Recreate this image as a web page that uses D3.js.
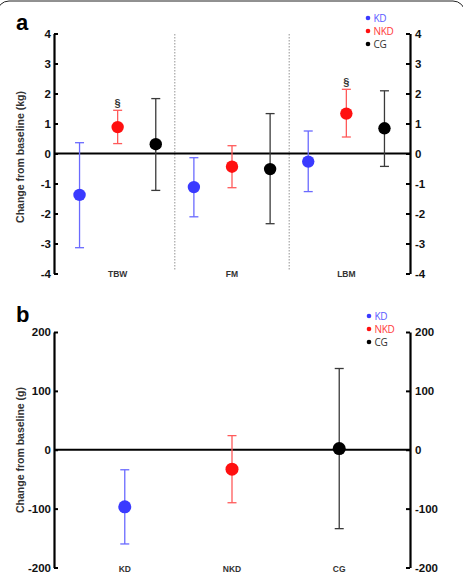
<!DOCTYPE html>
<html>
<head>
<meta charset="utf-8">
<script src="https://cdn.jsdelivr.net/npm/d3@7"></script>
<style>
  body { margin: 0; background: #fff; }
  svg { display: block; font-family: "Liberation Sans", Arial, sans-serif; }
</style>
</head>
<body>
<script>
    var w = 463;
    var h = 581;

    // panel a data (kg)
    var compartments = ["TBW", "FM", "LBM"];
    var groups = ["KD", "NKD", "CG"];
    var meanA = [[-1.38, 0.88, 0.31], [-1.12, -0.44, -0.52], [-0.27, 1.33, 0.84]];
    var lowA  = [[-3.14, 0.33, -1.23], [-2.11, -1.14, -2.34], [-1.27, 0.55, -0.43]];
    var highA = [[0.36, 1.44, 1.83], [-0.14, 0.26, 1.33], [0.75, 2.14, 2.09]];
    var sigA  = [["", "§", ""], ["", "", ""], ["", "§", ""]];
    var ticksA = [-4, -3, -2, -1, 0, 1, 2, 3, 4];

    // panel b data (g)
    var meanB = [-97, -33, 2];
    var lowB  = [-160, -90, -134];
    var highB = [-34, 24, 138];
    var ticksB = [-200, -100, 0, 100, 200];

    var dotColor = { KD: "#3a3aff", NKD: "#ff1010", CG: "#000" };
    var barColor = { KD: "#6a6aff", NKD: "#ff5a5a", CG: "#3a3a3a" };
    var legColor = { KD: "#5a5aff", NKD: "#ff3a3a", CG: "#333" };

    var svg = d3.select("body")
                .append("svg")
                .attr("width", w)
                .attr("height", h);

    // rounded frame, only the top shows
    svg.append("rect")
       .attr("x", -3).attr("y", 1)
       .attr("width", w + 5).attr("height", 700)
       .attr("rx", 12)
       .attr("fill", "none")
       .attr("stroke", "#222")
       .attr("stroke-width", 1);

    var xL = 54, xR = 410;

    function drawAxes(g, y, ticks, ylabel, yMid) {
        g.append("g")
         .attr("transform", "translate(" + xL + ",0)")
         .call(d3.axisLeft(y).tickValues(ticks).tickFormat(d => String(d))
                 .tickSizeInner(-4).tickSizeOuter(0).tickPadding(3))
         .call(styleAxis);
        g.append("g")
         .attr("transform", "translate(" + xR + ",0)")
         .call(d3.axisRight(y).tickValues(ticks).tickFormat(d => String(d))
                 .tickSizeInner(-4).tickSizeOuter(0).tickPadding(5))
         .call(styleAxis);
        // zero line
        g.append("line")
         .attr("x1", xL).attr("x2", xR)
         .attr("y1", y(0)).attr("y2", y(0))
         .attr("stroke", "#000").attr("stroke-width", 2.2);
        g.append("text")
         .attr("transform", "translate(24," + yMid + ") rotate(-90)")
         .attr("text-anchor", "middle")
         .attr("font-size", 10.5)
         .attr("font-weight", "bold")
         .attr("fill", "#333")
         .text(ylabel);
    }

    function styleAxis(sel) {
        sel.select(".domain").attr("stroke", "#000").attr("stroke-width", 2.2);
        sel.selectAll(".tick line").attr("stroke", "#000").attr("stroke-width", 2);
        sel.selectAll(".tick text")
           .attr("font-size", 11.5)
           .attr("font-weight", "bold")
           .attr("fill", "#111")
           .attr("font-family", "Liberation Sans, Arial, sans-serif");
    }

    function drawPoint(g, x, y, grp, m, lo, hi, r) {
        var c = barColor[grp];
        g.append("line").attr("x1", x).attr("x2", x).attr("y1", y(lo)).attr("y2", y(hi))
         .attr("stroke", c).attr("stroke-width", 1.3);
        [lo, hi].forEach(function(v) {
            g.append("line").attr("x1", x - 4.5).attr("x2", x + 4.5).attr("y1", y(v)).attr("y2", y(v))
             .attr("stroke", c).attr("stroke-width", 1.3);
        });
        g.append("circle").attr("cx", x).attr("cy", y(m)).attr("r", r)
         .attr("fill", dotColor[grp]);
    }

    function drawLegend(g, x, y0) {
        groups.forEach(function(grp, i) {
            g.append("circle").attr("cx", x).attr("cy", y0 + i * 13).attr("r", 2.3)
             .attr("fill", dotColor[grp]);
            g.append("text").attr("x", x + 5.5).attr("y", y0 + i * 13 + 3.5)
             .attr("font-size", 10).attr("fill", legColor[grp])
             .attr("font-family", "Open Sans, sans-serif")
             .attr("letter-spacing", -0.3)
             .text(grp);
        });
    }

    // ---------- panel a ----------
    var ga = svg.append("g");
    var keysA = [];
    compartments.forEach(function(c) { groups.forEach(function(g) { keysA.push(c + "-" + g); }); });
    var xa = d3.scalePoint().domain(keysA).range([xL, xR]).padding(0.67);
    var ya = d3.scaleLinear().domain([-4, 4]).range([273.5, 33.5]);

    // dotted dividers
    [2, 5].forEach(function(i) {
        var xd = (xa(keysA[i]) + xa(keysA[i + 1])) / 2;
        ga.append("line").attr("x1", xd).attr("x2", xd).attr("y1", 34).attr("y2", 270)
          .attr("stroke", "#777").attr("stroke-width", 0.8).attr("stroke-dasharray", "1.5,1.5");
    });

    drawAxes(ga, ya, ticksA, "Change from baseline (kg)", 157);

    compartments.forEach(function(c, ci) {
        groups.forEach(function(grp, gi) {
            var x = xa(c + "-" + grp);
            drawPoint(ga, x, ya, grp, meanA[ci][gi], lowA[ci][gi], highA[ci][gi], 6.2);
            if (sigA[ci][gi]) {
                ga.append("text").attr("x", x).attr("y", ya(highA[ci][gi]) - 3)
                  .attr("text-anchor", "middle").attr("font-size", 11).attr("font-weight", "bold")
                  .attr("fill", "#333").text(sigA[ci][gi]);
            }
        });
        ga.append("text").attr("x", xa(c + "-NKD")).attr("y", 277)
          .attr("text-anchor", "middle").attr("font-size", 8.5).attr("font-weight", "bold")
          .attr("fill", "#333").text(c);
    });

    drawLegend(ga, 368, 18);

    ga.append("text").attr("x", 16).attr("y", 30).attr("font-size", 22).attr("font-weight", "bold")
      .attr("font-family", "Liberation Sans, Arial, sans-serif").text("a");

    // ---------- panel b ----------
    var gb = svg.append("g");
    var xb = d3.scalePoint().domain(groups).range([xL, xR]).padding(0.66);
    var yb = d3.scaleLinear().domain([-200, 200]).range([567.5, 332]);

    drawAxes(gb, yb, ticksB, "Change from baseline (g)", 450);

    groups.forEach(function(grp, i) {
        drawPoint(gb, xb(grp), yb, grp, meanB[i], lowB[i], highB[i], 6.5);
        gb.append("text").attr("x", xb(grp)).attr("y", 572)
          .attr("text-anchor", "middle").attr("font-size", 8.5).attr("font-weight", "bold")
          .attr("fill", "#333").text(grp);
    });

    drawLegend(gb, 369, 316);

    gb.append("text").attr("x", 16).attr("y", 322).attr("font-size", 22).attr("font-weight", "bold")
      .attr("font-family", "Liberation Sans, Arial, sans-serif").text("b");
</script>
</body>
</html>
